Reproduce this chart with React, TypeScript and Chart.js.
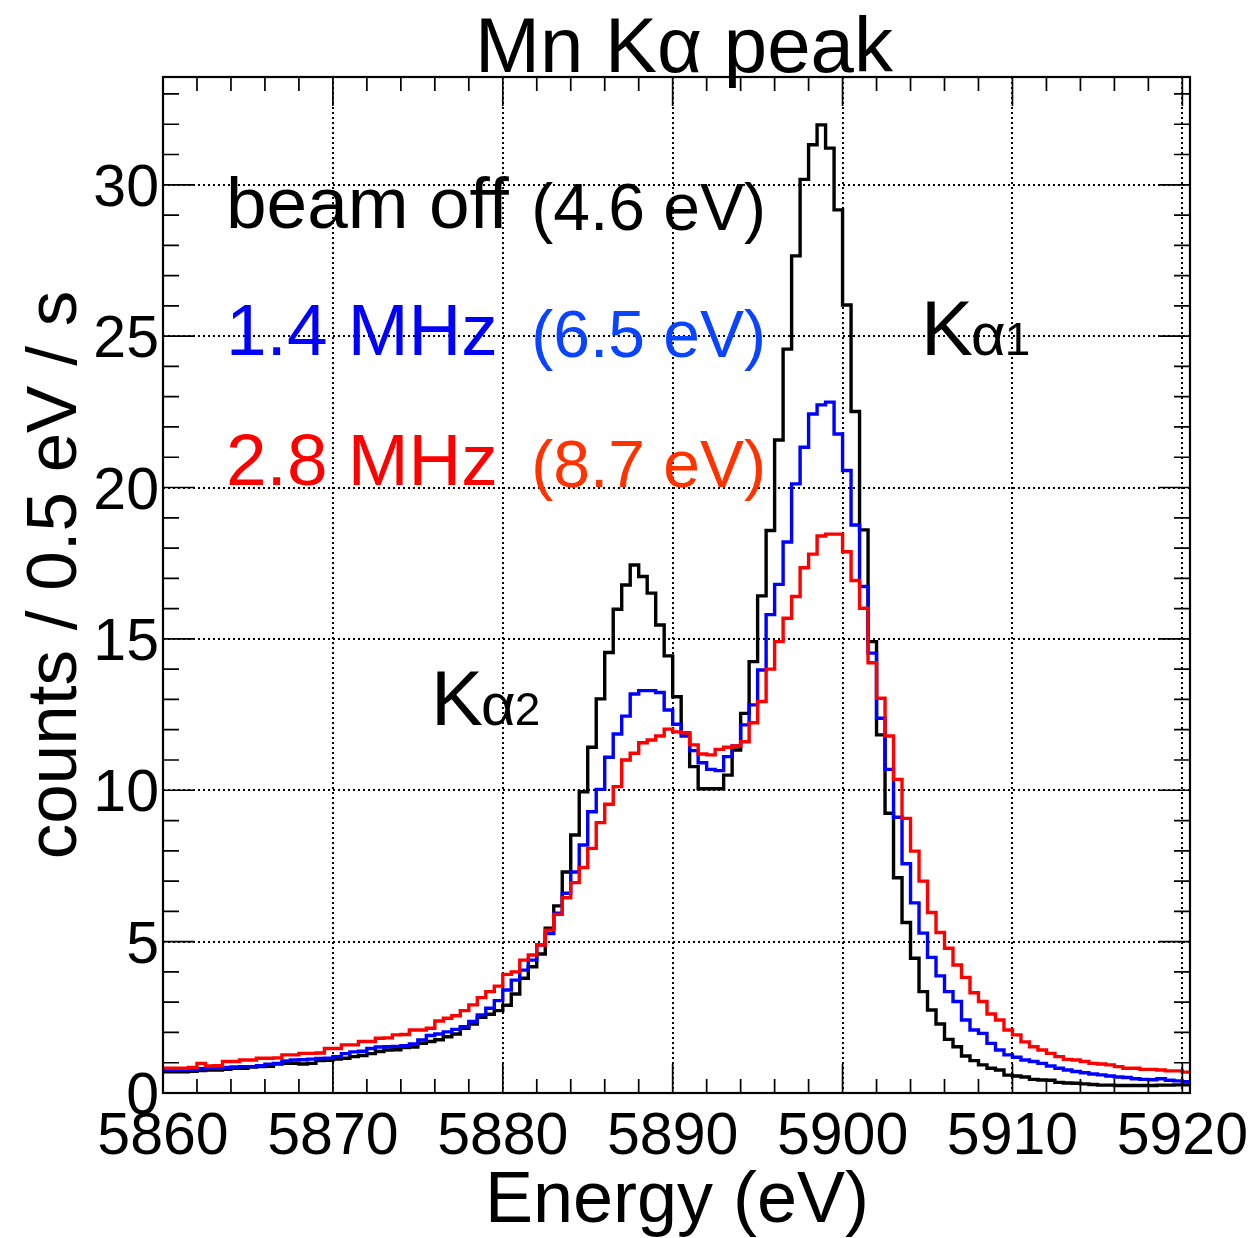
import React, { useEffect, useRef } from 'react';
import { Chart, registerables } from 'chart.js';

Chart.register(...registerables);

// ---- data (0.5 eV bins starting at 5860 eV) ----
const binStart = 5860;
const binWidth = 0.5;

const beamOff = [
  0.70, 0.70, 0.70, 0.72, 0.74, 0.76, 0.76, 0.78, 0.82, 0.82,
  0.86, 0.87, 0.88, 0.96, 0.98, 0.98, 0.96, 0.98, 1.07, 1.08,
  1.12, 1.15, 1.20, 1.24, 1.30, 1.37, 1.42, 1.43, 1.50, 1.52,
  1.64, 1.70, 1.76, 1.86, 1.95, 2.14, 2.28, 2.50, 2.60, 2.72,
  2.90, 3.27, 3.79, 4.17, 4.59, 5.44, 6.18, 7.30, 8.52, 9.95,
  11.42, 13.02, 14.55, 15.98, 16.78, 17.44, 17.06, 16.51, 15.46, 14.44,
  13.09, 11.90, 10.78, 10.05, 10.05, 10.05, 10.50, 11.33, 12.54, 14.25,
  16.42, 18.58, 21.57, 24.57, 27.65, 30.18, 31.32, 31.98, 31.21, 29.17,
  26.03, 22.51, 18.60, 14.91, 11.83, 9.24, 7.11, 5.63, 4.45, 3.35,
  2.74, 2.28, 1.77, 1.53, 1.22, 1.07, 0.93, 0.82, 0.76, 0.59,
  0.56, 0.53, 0.45, 0.43, 0.42, 0.35, 0.33, 0.32, 0.30, 0.28,
  0.26, 0.26, 0.25, 0.25, 0.25, 0.25, 0.25, 0.26, 0.26, 0.27,
  0.27,
];

const rate14MHz = [
  0.76, 0.76, 0.76, 0.78, 0.80, 0.82, 0.82, 0.84, 0.86, 0.87,
  0.87, 0.90, 0.95, 0.98, 1.06, 1.09, 1.10, 1.12, 1.14, 1.15,
  1.20, 1.30, 1.36, 1.38, 1.47, 1.52, 1.53, 1.54, 1.56, 1.62,
  1.75, 1.90, 1.95, 2.02, 2.10, 2.19, 2.36, 2.58, 2.80, 3.05,
  3.40, 3.73, 4.06, 4.39, 4.89, 5.27, 5.94, 6.60, 7.30, 8.19,
  9.29, 10.03, 11.09, 11.86, 12.45, 13.18, 13.29, 13.29, 13.23, 12.65,
  12.18, 11.79, 11.31, 10.91, 10.69, 10.65, 11.11, 11.46, 12.16, 12.82,
  13.97, 15.80, 16.80, 18.20, 20.12, 21.33, 22.43, 22.73, 22.82, 21.77,
  20.56, 18.76, 16.73, 14.53, 12.38, 10.69, 9.11, 7.57, 6.28, 5.28,
  4.48, 3.87, 3.35, 3.02, 2.41, 2.08, 1.97, 1.64, 1.42, 1.26,
  1.18, 1.09, 1.04, 0.98, 0.89, 0.82, 0.76, 0.71, 0.67, 0.63,
  0.60, 0.56, 0.53, 0.51, 0.47, 0.45, 0.44, 0.47, 0.42, 0.40,
  0.37,
];

const rate28MHz = [
  0.82, 0.82, 0.82, 0.84, 0.98, 0.89, 0.90, 1.04, 1.04, 1.09,
  1.09, 1.15, 1.15, 1.16, 1.26, 1.26, 1.31, 1.31, 1.32, 1.47,
  1.47, 1.59, 1.59, 1.70, 1.70, 1.81, 1.82, 1.92, 1.93, 2.08,
  2.08, 2.14, 2.38, 2.47, 2.55, 2.72, 2.91, 3.15, 3.35, 3.53,
  3.92, 4.00, 4.39, 4.56, 4.89, 5.38, 5.90, 6.45, 6.95, 7.45,
  8.08, 8.93, 9.54, 10.12, 11.00, 11.22, 11.57, 11.66, 11.79, 12.02,
  11.93, 11.90, 11.50, 11.20, 11.17, 11.35, 11.42, 11.46, 11.60, 12.23,
  12.93, 14.00, 14.91, 15.68, 16.40, 17.35, 17.80, 18.40, 18.46, 18.46,
  17.88, 16.93, 16.01, 14.21, 13.04, 11.79, 10.36, 9.07, 7.99, 7.00,
  5.96, 5.30, 4.78, 4.23, 3.82, 3.31, 3.02, 2.61, 2.41, 2.08,
  1.92, 1.69, 1.53, 1.42, 1.31, 1.20, 1.11, 1.09, 1.04, 0.98,
  0.96, 0.93, 0.87, 0.82, 0.82, 0.78, 0.78, 0.76, 0.73, 0.73,
  0.69,
];

const xTickValues = [5860, 5870, 5880, 5890, 5900, 5910, 5920];
const yTickValues = [0, 5, 10, 15, 20, 25, 30];
const xRange = [5860, 5920.45];
const yRange = [0, 33.56];

const titleText = 'Mn K\u03b1 peak';
const xTitle = 'Energy (eV)';
const yTitle = 'counts / 0.5 eV / s';

const legendLabels = ['beam off', '1.4 MHz', '2.8 MHz'];
const legendResolutions = ['(4.6 eV)', '(6.5 eV)', '(8.7 eV)'];

const FONT = '"Liberation Sans", Arial, Helvetica, sans-serif';

function toSteps(values: number[]) {
  const pts = values.map((v, i) => ({ x: binStart + i * binWidth, y: v }));
  pts.push({ x: binStart + values.length * binWidth, y: values[values.length - 1] });
  return pts;
}

const decorPlugin = {
  id: 'rootStyle',
  beforeDatasetsDraw(chart: any) {
    const { ctx, chartArea: a, scales } = chart;
    const xs = scales.x;
    const ys = scales.y;
    ctx.save();
    ctx.strokeStyle = '#000';
    ctx.lineWidth = 2;
    ctx.setLineDash([2, 3]);
    for (const v of xTickValues) {
      const px = Math.round(xs.getPixelForValue(v));
      if (px <= a.left + 2 || px >= a.right - 2) continue;
      ctx.beginPath();
      ctx.moveTo(px, a.top);
      ctx.lineTo(px, a.bottom);
      ctx.stroke();
    }
    for (const v of yTickValues) {
      const py = Math.round(ys.getPixelForValue(v));
      if (py <= a.top + 2 || py >= a.bottom - 2) continue;
      ctx.beginPath();
      ctx.moveTo(a.left, py);
      ctx.lineTo(a.right, py);
      ctx.stroke();
    }
    ctx.restore();
  },
  afterDatasetsDraw(chart: any) {
    const { ctx, chartArea: a, scales } = chart;
    const xs = scales.x;
    const ys = scales.y;
    ctx.save();
    ctx.setLineDash([]);
    ctx.strokeStyle = '#000';

    // ticks
    ctx.lineWidth = 1.7;
    for (let v = 0; v <= yRange[1]; v += 1) {
      const py = ys.getPixelForValue(v);
      const len = v % 5 === 0 ? 32 : 16;
      ctx.beginPath();
      ctx.moveTo(a.left, py);
      ctx.lineTo(a.left + len, py);
      ctx.moveTo(a.right, py);
      ctx.lineTo(a.right - len, py);
      ctx.stroke();
    }
    for (let v = xRange[0]; v <= xRange[1]; v += 2) {
      const px = xs.getPixelForValue(v);
      const len = (v - xRange[0]) % 10 === 0 ? 29 : 14;
      ctx.beginPath();
      ctx.moveTo(px, a.bottom);
      ctx.lineTo(px, a.bottom - len);
      ctx.moveTo(px, a.top);
      ctx.lineTo(px, a.top + len);
      ctx.stroke();
    }

    // frame
    ctx.lineWidth = 2.2;
    ctx.strokeRect(a.left, a.top, a.right - a.left, a.bottom - a.top);

    // tick labels
    ctx.fillStyle = '#000';
    ctx.font = `59px ${FONT}`;
    ctx.textAlign = 'right';
    ctx.textBaseline = 'alphabetic';
    for (const v of yTickValues) {
      const py = ys.getPixelForValue(v);
      ctx.fillText(String(v), a.left - 4, py + 21);
    }
    ctx.textAlign = 'center';
    for (const v of xTickValues) {
      const px = xs.getPixelForValue(v);
      ctx.fillText(String(v), px, 1154);
    }

    // axis titles
    ctx.font = `72px ${FONT}`;
    ctx.textAlign = 'center';
    ctx.fillText(xTitle, 677, 1222);
    ctx.font = `71px ${FONT}`;
    ctx.save();
    ctx.translate(76, 575);
    ctx.rotate(-Math.PI / 2);
    ctx.fillText(yTitle, 0, 0);
    ctx.restore();

    // title
    ctx.font = `78px ${FONT}`;
    ctx.textAlign = 'center';
    ctx.fillText(titleText, 684, 72);

    // legend texts
    const labelColors = ['#000000', '#0000ff', '#ff0000'];
    const resColors = ['#000000', '#0a44ff', '#ff3300'];
    const baselines = [228, 355, 485];
    for (let i = 0; i < legendLabels.length; i++) {
      ctx.font = `73px ${FONT}`;
      ctx.textAlign = 'left';
      ctx.fillStyle = labelColors[i];
      ctx.fillText(legendLabels[i], 226, baselines[i]);
      ctx.font = `66px ${FONT}`;
      ctx.textAlign = 'right';
      ctx.fillStyle = resColors[i];
      ctx.fillText(legendResolutions[i], 766, baselines[i] + 2);
    }

    // K alpha labels
    const drawK = (x: number, y: number, sub: string) => {
      ctx.fillStyle = '#000';
      ctx.textAlign = 'left';
      ctx.font = `78px ${FONT}`;
      ctx.fillText('K', x, y);
      let cx = x + ctx.measureText('K').width - 2;
      ctx.font = `60px ${FONT}`;
      ctx.fillText('\u03b1', cx, y);
      cx += ctx.measureText('\u03b1').width - 1;
      ctx.font = `46px ${FONT}`;
      ctx.fillText(sub, cx, y);
    };
    drawK(921, 355, '1');
    drawK(431, 725, '2');

    ctx.restore();
  },
};

export default function App() {
  const canvasRef = useRef<HTMLCanvasElement | null>(null);

  useEffect(() => {
    const canvas = canvasRef.current;
    if (!canvas) return;
    const mk = (label: string, values: number[], color: string) => ({
      label,
      data: toSteps(values),
      borderColor: color,
      backgroundColor: color,
      borderWidth: 3.4,
      stepped: 'before' as const,
      pointRadius: 0,
      fill: false,
      tension: 0,
    });
    const chart = new Chart(canvas, {
      type: 'line',
      data: {
        datasets: [
          mk('2.8 MHz', rate28MHz, '#ff0000'),
          mk('1.4 MHz', rate14MHz, '#0000ff'),
          mk('beam off', beamOff, '#000000'),
        ],
      },
      options: {
        animation: false,
        responsive: false,
        maintainAspectRatio: false,
        devicePixelRatio: 1,
        layout: { padding: { left: 163, top: 77, right: 62, bottom: 145 } },
        plugins: {
          legend: { display: false },
          tooltip: { enabled: false },
          title: { display: false },
        },
        scales: {
          x: { type: 'linear', min: xRange[0], max: xRange[1], display: false },
          y: { type: 'linear', min: yRange[0], max: yRange[1], display: false },
        },
      },
      plugins: [decorPlugin],
    });
    return () => chart.destroy();
  }, []);

  return (
    <div style={{ position: 'absolute', left: 0, top: 0, width: 1252, height: 1238, background: '#fff' }}>
      <canvas ref={canvasRef} width={1252} height={1238} style={{ width: 1252, height: 1238, display: 'block' }} />
    </div>
  );
}
